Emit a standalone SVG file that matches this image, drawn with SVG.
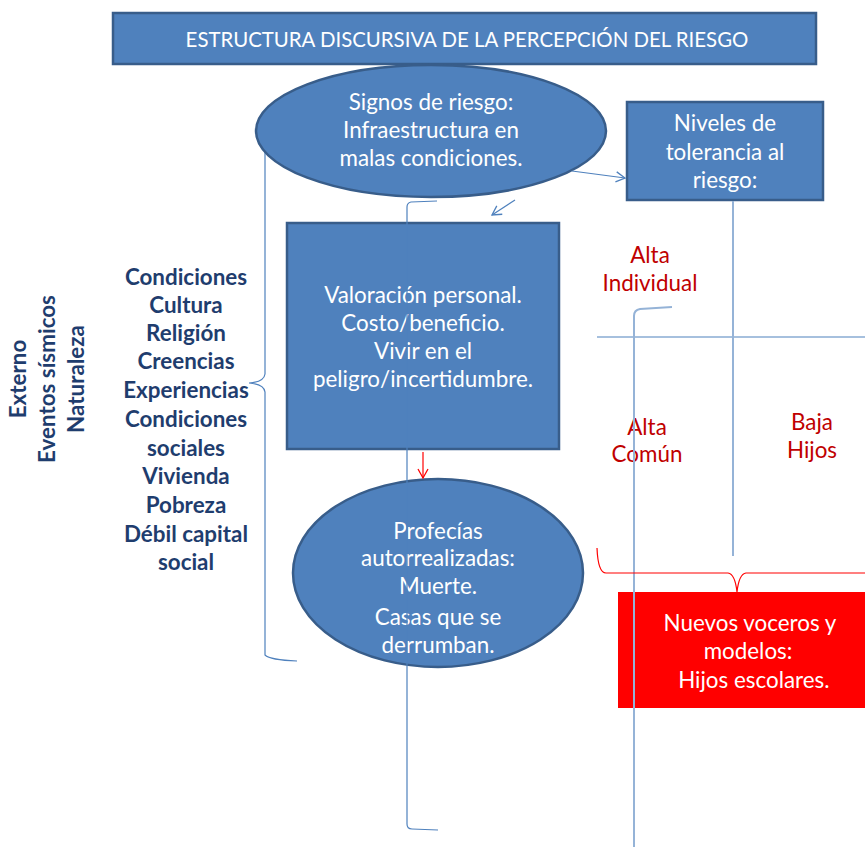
<svg xmlns="http://www.w3.org/2000/svg" width="865" height="847" viewBox="0 0 865 847">
<defs>
<style>
.node{fill:#4F81BD;stroke:#385D8A;stroke-width:2.5}
.wt{font-family:Lato,"Liberation Sans",sans-serif;font-size:22.4px;fill:#FFFFFF;text-anchor:middle}
.lt{font-family:Lato,"Liberation Sans",sans-serif;font-size:22.4px;font-weight:bold;fill:#1F3D6E;text-anchor:middle}
.rt{font-family:Lato,"Liberation Sans",sans-serif;font-size:22.4px;fill:#C00000;text-anchor:middle}
.ln{fill:none;stroke:#4F81BD;stroke-width:1.2}
.lb{fill:none;stroke:#95B3D7;stroke-width:2}
.red{fill:none;stroke:#FF0000;stroke-width:1.2}
</style>
<marker id="ab" markerWidth="12" markerHeight="12" refX="10" refY="6" orient="auto" markerUnits="userSpaceOnUse">
<path d="M1,1 L10,6 L1,11" fill="none" stroke="#4F81BD" stroke-width="1.3"/>
</marker>
<marker id="ar" markerWidth="12" markerHeight="12" refX="10" refY="6" orient="auto" markerUnits="userSpaceOnUse">
<path d="M1,1 L10,6 L1,11" fill="none" stroke="#FF0000" stroke-width="1.3"/>
</marker>
</defs>
<rect width="865" height="847" fill="#FFFFFF"/>

<g id="connectors-back">
<path class="ln" d="M297,661 Q270,660 265,655 L265,392 Q264,384 249,383 Q264,382 265,374 L265,150"/>
</g>

<g id="title">
<rect class="node" x="113" y="13" width="703" height="51"/>
<text class="wt" x="467" y="47" style="font-size:20.4px">ESTRUCTURA DISCURSIVA DE LA PERCEPCIÓN DEL RIESGO</text>
</g>

<g id="signos">
<ellipse class="node" cx="431" cy="131" rx="175" ry="66"/>
<text class="wt"><tspan x="431" y="110">Signos de riesgo:</tspan><tspan x="431" y="138">Infraestructura en</tspan><tspan x="431" y="166">malas condiciones.</tspan></text>
</g>

<g id="niveles">
<rect class="node" x="627" y="102" width="196" height="98"/>
<text class="wt"><tspan x="725" y="131">Niveles de</tspan><tspan x="725" y="160">tolerancia al</tspan><tspan x="725" y="188">riesgo:</tspan></text>
</g>

<g id="valoracion">
<rect class="node" x="287" y="223" width="272" height="226"/>
<text class="wt"><tspan x="423" y="303">Valoración personal.</tspan><tspan x="423" y="331">Costo/beneficio.</tspan><tspan x="423" y="359">Vivir en el</tspan><tspan x="423" y="387">peligro/incertidumbre.</tspan></text>
</g>

<g id="profecias">
<ellipse class="node" cx="438" cy="573" rx="145" ry="94"/>
<text class="wt"><tspan x="438" y="539">Profecías</tspan><tspan x="438" y="566">autorrealizadas:</tspan><tspan x="438" y="594">Muerte.</tspan><tspan x="438" y="625">Casas que se</tspan><tspan x="438" y="653">derrumban.</tspan></text>
</g>

<g id="nuevos">
<rect x="618" y="592" width="247" height="116" fill="#FF0000"/>
<text class="wt"><tspan x="750" y="631">Nuevos voceros y</tspan><tspan x="748" y="659">modelos:</tspan><tspan x="751" y="688"> Hijos escolares.</tspan></text>
</g>

<g id="factores">
<text class="lt"><tspan x="186" y="285">Condiciones</tspan><tspan x="186" y="313">Cultura</tspan><tspan x="186" y="341">Religión</tspan><tspan x="186" y="369">Creencias</tspan><tspan x="186" y="398">Experiencias</tspan><tspan x="186" y="427">Condiciones</tspan><tspan x="186" y="456">sociales</tspan><tspan x="186" y="484">Vivienda</tspan><tspan x="186" y="513">Pobreza</tspan><tspan x="186" y="542">Débil capital</tspan><tspan x="186" y="570">social</tspan></text>
</g>

<g id="externo">
<text class="lt" transform="translate(26,379) rotate(-90)" x="0" y="0">Externo</text>
<text class="lt" transform="translate(55,379) rotate(-90)" x="0" y="0">Eventos sísmicos</text>
<text class="lt" transform="translate(84,379) rotate(-90)" x="0" y="0">Naturaleza</text>
</g>

<g id="niveles-labels">
<text class="rt"><tspan x="650" y="263">Alta</tspan><tspan x="650" y="291">Individual</tspan></text>
<text class="rt"><tspan x="647" y="435">Alta</tspan><tspan x="647" y="462">Común</tspan></text>
<text class="rt"><tspan x="812" y="430">Baja</tspan><tspan x="812" y="458">Hijos</tspan></text>
</g>

<g id="connectors">
<line class="ln" x1="572" y1="171" x2="625" y2="178" marker-end="url(#ab)"/>
<line class="ln" x1="515" y1="200" x2="492" y2="215" marker-end="url(#ab)"/>
<path class="ln" d="M437,201 L411,202 Q407,203 407,207 L407,824 Q407,829 412,829 L438,830"/>
<line class="red" x1="423" y1="452" x2="423" y2="478" marker-end="url(#ar)"/>
<line class="ln" x1="597" y1="337" x2="865" y2="337"/>
<line class="lb" x1="733" y1="201" x2="733" y2="556"/>
<path class="lb" d="M672,307 L640,309 Q634,310 634,316 L634,847"/>
<path class="red" d="M597,548 Q598,573 606,573 L728,573 Q735,574 737,592 Q739,574 746,573 L865,573"/>
</g>
</svg>
